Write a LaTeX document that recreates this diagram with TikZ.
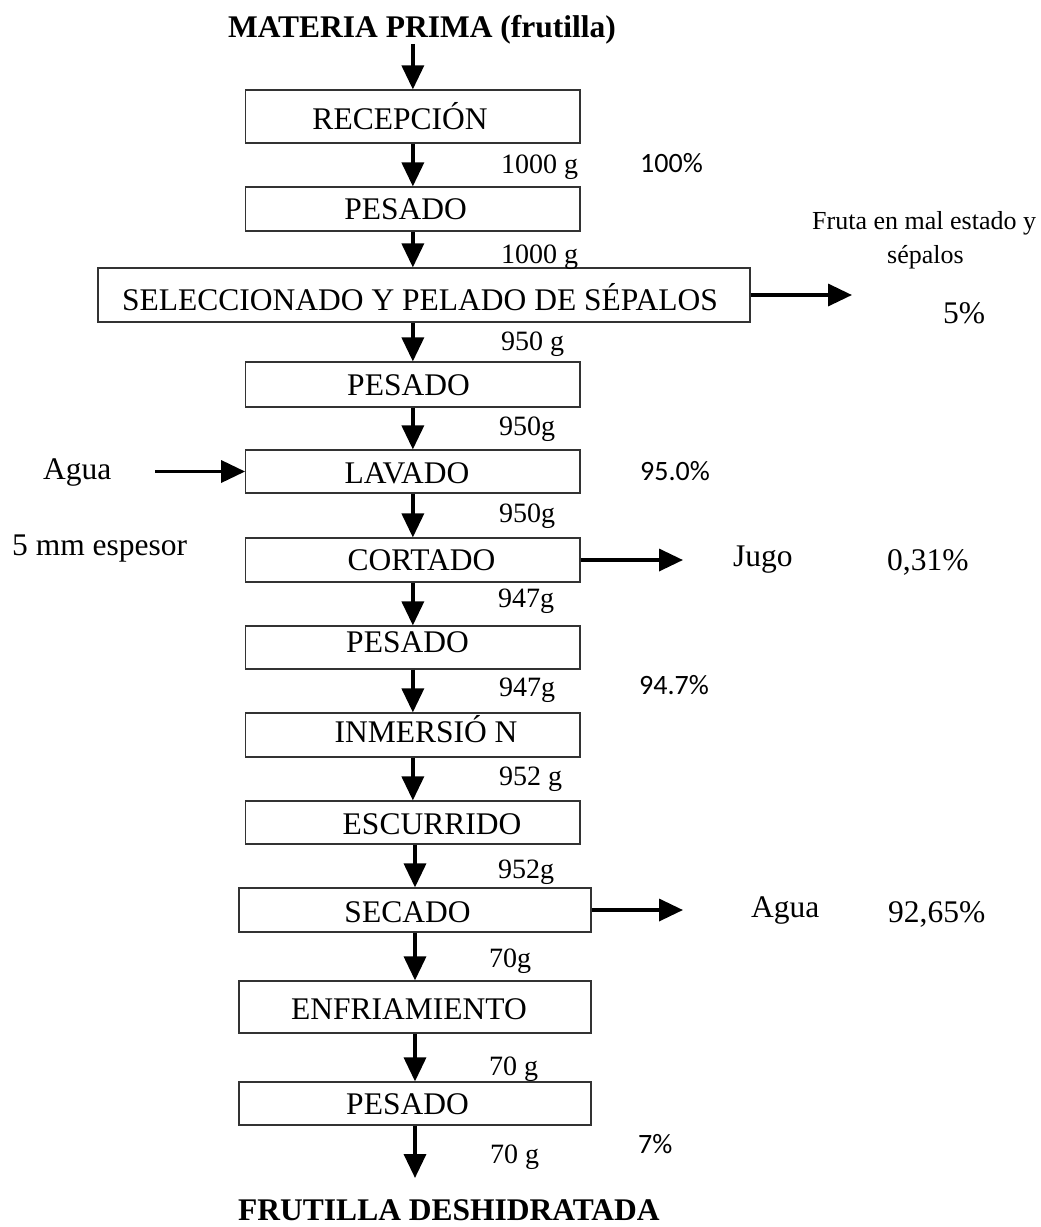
\documentclass[tikz,border=0pt]{standalone}
\usepackage{fontspec}
\setmainfont{Liberation Serif}
\newfontfamily\calib{Carlito}
\usetikzlibrary{arrows.meta}
\begin{document}
\begin{tikzpicture}[x=1pt,y=-1pt,
  box/.style={draw=black!80, line width=1.2pt, inner sep=0pt, minimum width=334.3pt},
  boxtxt/.style={inner sep=0pt, anchor=base, font=\fontsize{31.5}{36}\selectfont},
  wt/.style={inner sep=0pt, anchor=base west, font=\fontsize{28}{32}\selectfont},
  pct/.style={inner sep=0pt, anchor=base west, font=\calib\fontsize{28}{32}\selectfont},
  side/.style={inner sep=0pt, anchor=base west, font=\fontsize{31.5}{36}\selectfont},
  small/.style={inner sep=0pt, anchor=base west, font=\fontsize{26}{30}\selectfont},
  ttl/.style={inner sep=0pt, anchor=base, font=\bfseries\fontsize{31.5}{36}\selectfont},
  flow/.style={line width=3.5pt, -{Triangle[length=24pt,width=22pt]}},
]
\useasboundingbox (0,0) rectangle (1041,1227);

% title
\node[ttl] (t) at (422,37) {MATERIA PRIMA (frutilla)};

% boxes
\node[box, minimum height=53pt] (b1) at (412.85,116.5) {};
\node[box, minimum height=44pt] (b2) at (412.85,209) {};
\node[box, minimum width=652pt, minimum height=54pt] (b3) at (424,295) {};
\node[box, minimum height=45pt] (b4) at (412.85,384.5) {};
\node[box, minimum height=43pt] (b5) at (412.85,471.5) {};
\node[box, minimum height=44pt] (b6) at (412.85,560) {};
\node[box, minimum height=43pt] (b7) at (412.85,647.5) {};
\node[box, minimum height=44pt] (b8) at (412.85,735) {};
\node[box, minimum height=43pt] (b9) at (412.85,822.5) {};
\node[box, minimum width=352pt, minimum height=44pt] (b10) at (415,910) {};
\node[box, minimum width=352pt, minimum height=52pt] (b11) at (415,1007) {};
\node[box, minimum width=352pt, minimum height=43pt] (b12) at (415,1103.5) {};

% box texts
\node[boxtxt] (l1) at (400,129) {RECEPCIÓN};
\node[boxtxt] (l2) at (405.6,219) {PESADO};
\node[boxtxt] (l3) at (420,310) {SELECCIONADO Y PELADO DE SÉPALOS};
\node[boxtxt] (l4) at (408.5,395) {PESADO};
\node[boxtxt] (l5) at (407,483) {LAVADO};
\node[boxtxt] (l6) at (421.5,570) {CORTADO};
\node[boxtxt] (l7) at (407.5,652) {PESADO};
\node[boxtxt] (l8) at (426,742) {INMERSIÓ N};
\node[boxtxt] (l9) at (432,834) {ESCURRIDO};
\node[boxtxt] (l10) at (407.5,922) {SECADO};
\node[boxtxt] (l11) at (409,1019) {ENFRIAMIENTO};
\node[boxtxt] (l12) at (407.5,1114) {PESADO};

% final product
\node[ttl] (f) at (449,1220) {FRUTILLA DESHIDRATADA};
\coordinate (fend) at (415,1178);

% vertical flow
\draw[flow] (t.south -| b1.north) -- (b1.north);
\draw[flow] (b1.south) -- (b2.north);
\draw[flow] (b2.south) -- (b2.south |- b3.north);
\draw[flow] (b2.south |- b3.south) -- (b4.north);
\draw[flow] (b4.south) -- (b5.north);
\draw[flow] (b5.south) -- (b6.north);
\draw[flow] (b6.south) -- (b7.north);
\draw[flow] (b7.south) -- (b8.north);
\draw[flow] (b8.south) -- (b9.north);
\draw[flow] (b9.south -| b10.north) -- (b10.north);
\draw[flow] (b10.south) -- (b11.north);
\draw[flow] (b11.south) -- (b12.north);
\draw[flow] (b12.south) -- (fend);

% side flows
\coordinate (e3) at (852,295);
\draw[flow] (b3.east) -- (e3);
\node[side] (agua1) at (43,479) {Agua};
\coordinate (a5) at (155,471.5);
\draw[flow] (a5) -- (b5.west);
\coordinate (e6) at (683,560);
\draw[flow] (b6.east) -- (e6);
\coordinate (e10) at (683,910);
\draw[flow] (b10.east) -- (e10);

% weights
\node[wt] (w1) at (501,173) {1000 g};
\node[wt] (w2) at (501,263) {1000 g};
\node[wt] (w3) at (501,350) {950 g};
\node[wt] (w4) at (499,435) {950g};
\node[wt] (w5) at (499,522) {950g};
\node[wt] (w6) at (498,607) {947g};
\node[wt] (w7) at (499,696) {947g};
\node[wt] (w8) at (499,785) {952 g};
\node[wt] (w9) at (498,878) {952g};
\node[wt] (w10) at (489,967) {70g};
\node[wt] (w11) at (489,1075) {70 g};
\node[wt] (w12) at (490,1163) {70 g};

% percentages and side texts
\node[pct] (p1) at (640,172) {100\%};
\node[pct] (p2) at (640,480) {95.0\%};
\node[pct] (p3) at (639,694) {94.7\%};
\node[pct] (p4) at (638,1153) {7\%};
\node[small] (s1) at (812,229) {Fruta en mal estado y};
\node[small] (s2) at (887,263) {sépalos};
\node[side] (s3) at (943,323) {5\%};
\node[side] (s4) at (733,566) {Jugo};
\node[side] (s5) at (887,570) {0,31\%};
\node[side] (s6) at (751,917) {Agua};
\node[side] (s7) at (888,922) {92,65\%};
\node[side] (s8) at (12,555) {5 mm espesor};
\end{tikzpicture}
\end{document}
